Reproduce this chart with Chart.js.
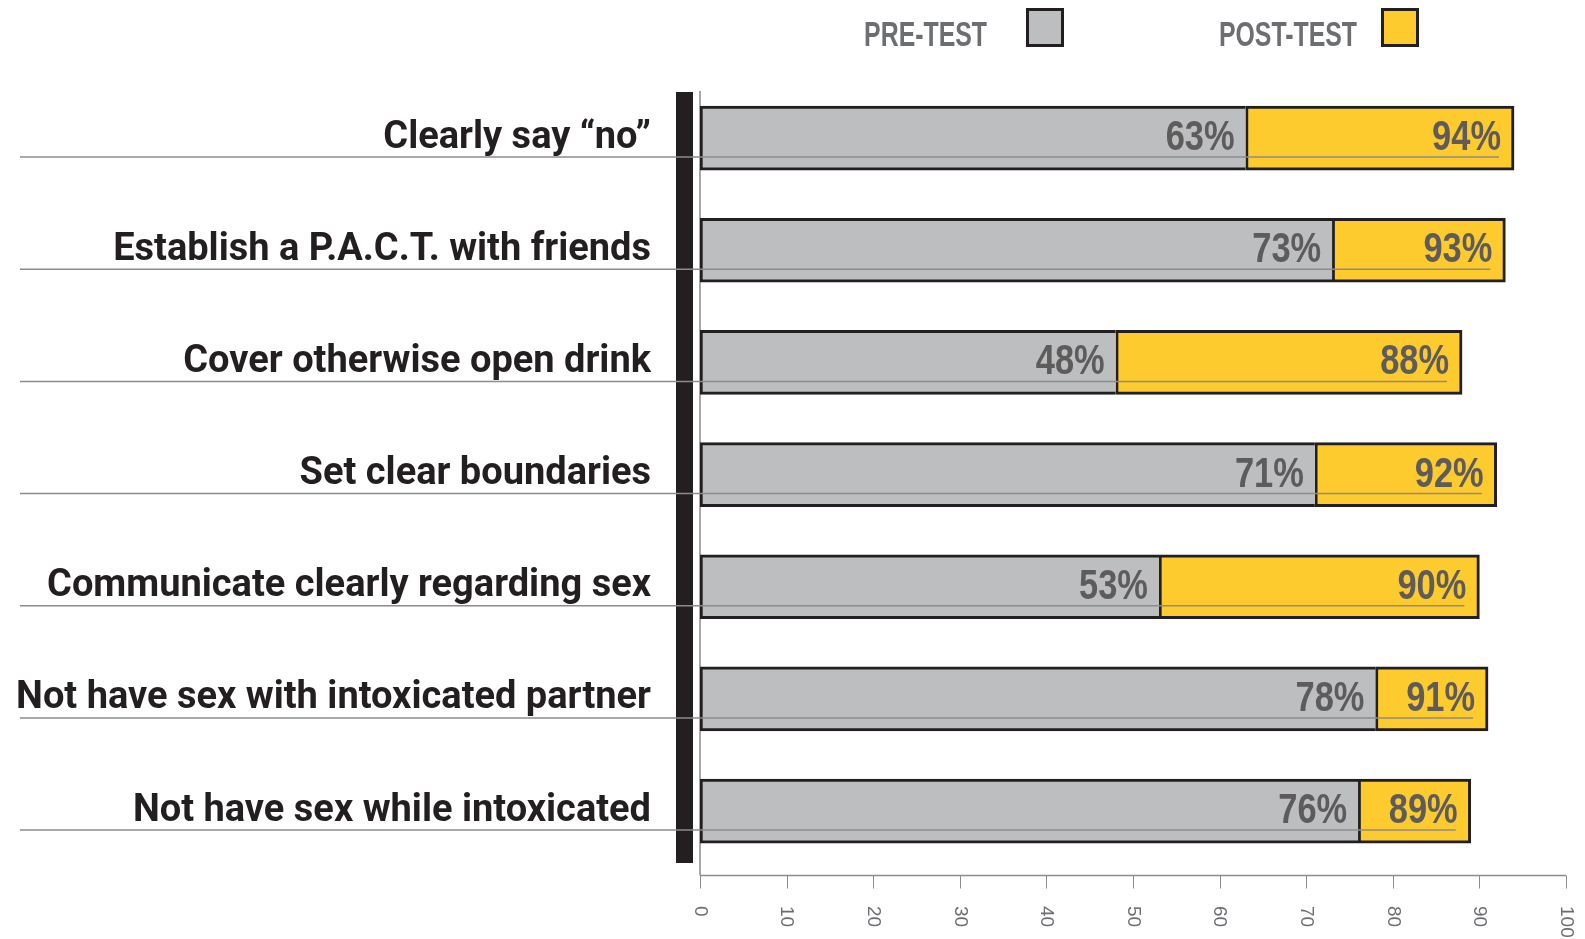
<!DOCTYPE html>
<html>
<head>
<meta charset="utf-8">
<script src="https://cdn.jsdelivr.net/npm/chart.js@4/dist/chart.umd.min.js"></script>
<style>
  html, body { margin: 0; padding: 0; background: #fff; }
  #wrap { width: 1585px; height: 939px; }
</style>
</head>
<body>
<div id="wrap"><canvas id="chart" width="1585" height="939"></canvas></div>
<script>
const CATEGORIES = [
  'Clearly say \u201cno\u201d',
  'Establish a P.A.C.T. with friends',
  'Cover otherwise open drink',
  'Set clear boundaries',
  'Communicate clearly regarding sex',
  'Not have sex with intoxicated partner',
  'Not have sex while intoxicated',
];
const PRE_TEST  = [63, 73, 48, 71, 53, 78, 76];
const POST_TEST = [94, 93, 88, 92, 90, 91, 89];
const X_TICKS   = [0, 10, 20, 30, 40, 50, 60, 70, 80, 90, 100];
const SERIES    = ['PRE-TEST', 'POST-TEST'];

const GRAY = '#bcbec0';
const YELLOW = '#fecb2f';
const INK = '#231f20';
const LABEL_GRAY = '#5d5b5b';
const RULE = '#8c8c8c';

// 横に詰めたテキスト（コンデンス書体の代用）
function condensedText(ctx, text, x, y, font, sx, align) {
  ctx.save();
  ctx.font = font;
  const w = ctx.measureText(text).width * sx;
  const left = align === 'right' ? x - w : x;
  ctx.translate(left, y);
  ctx.scale(sx, 1);
  ctx.textAlign = 'left';
  ctx.fillText(text, 0, 0);
  ctx.restore();
}

const AXIS_Y = 875.5;

const decor = {
  id: 'decor',
  beforeDatasetsDraw(chart) {
    const ctx = chart.ctx;
    const xs = chart.scales.x;
    ctx.save();
    // 左の太い縦帯
    ctx.fillStyle = INK;
    ctx.fillRect(676, 92, 17, 771);
    // 軸線と目盛り
    ctx.strokeStyle = RULE;
    ctx.lineWidth = 1.5;
    ctx.beginPath();
    ctx.moveTo(xs.getPixelForValue(0), 91);
    ctx.lineTo(xs.getPixelForValue(0), AXIS_Y);
    ctx.moveTo(xs.getPixelForValue(0), AXIS_Y);
    ctx.lineTo(xs.getPixelForValue(100), AXIS_Y);
    ctx.stroke();
    ctx.lineWidth = 1;
    X_TICKS.forEach(v => {
      const x = Math.round(xs.getPixelForValue(v)) + 0.5;
      ctx.beginPath();
      ctx.moveTo(x, AXIS_Y);
      ctx.lineTo(x, AXIS_Y + 13);
      ctx.stroke();
    });
    ctx.restore();
  },
  afterDatasetsDraw(chart) {
    const ctx = chart.ctx;
    const xs = chart.scales.x, ys = chart.scales.y;

    CATEGORIES.forEach((c, i) => {
      const yc = ys.getPixelForValue(i);
      // 下線
      ctx.save();
      ctx.strokeStyle = RULE;
      ctx.lineWidth = 1.5;
      ctx.beginPath();
      ctx.moveTo(20, yc + 19);
      ctx.lineTo(xs.getPixelForValue(POST_TEST[i]) - 15, yc + 19);
      ctx.stroke();
      ctx.restore();

      // 値ラベル
      ctx.fillStyle = LABEL_GRAY;
      const f = 'bold 42px "Liberation Sans", Arial, sans-serif';
      condensedText(ctx, PRE_TEST[i] + '%', xs.getPixelForValue(PRE_TEST[i]) - 11, yc + 12, f, 0.82, 'right');
      condensedText(ctx, POST_TEST[i] + '%', xs.getPixelForValue(POST_TEST[i]) - 13, yc + 12, f, 0.82, 'right');
    });
  },
  afterDraw(chart) {
    const ctx = chart.ctx;
    const xs = chart.scales.x;

    // 目盛りラベル（時計回りに90°）
    ctx.save();
    ctx.fillStyle = '#6d6e71';
    ctx.font = '19px "Liberation Sans", Arial, sans-serif';
    ctx.textAlign = 'left';
    ctx.textBaseline = 'middle';
    X_TICKS.forEach(v => {
      ctx.save();
      ctx.translate(xs.getPixelForValue(v), 906);
      ctx.rotate(Math.PI / 2);
      ctx.fillText(String(v), 0, 0);
      ctx.restore();
    });
    ctx.restore();

    // 凡例
    const legend = [
      { text: SERIES[0], right: 987, box: 1026, color: GRAY },
      { text: SERIES[1], right: 1357, box: 1381, color: YELLOW },
    ];
    legend.forEach(l => {
      ctx.fillStyle = '#6d6e71';
      condensedText(ctx, l.text, l.right, 46, 'bold 35px "Liberation Sans", Arial, sans-serif', 0.71, 'right');
      ctx.save();
      ctx.fillStyle = l.color;
      ctx.fillRect(l.box, 8, 38, 39);
      ctx.strokeStyle = INK;
      ctx.lineWidth = 3;
      ctx.strokeRect(l.box + 1.5, 9.5, 35, 36);
      ctx.restore();
    });
  },
};

new Chart(document.getElementById('chart'), {
  type: 'bar',
  data: {
    labels: CATEGORIES,
    datasets: [
      {
        label: SERIES[0],
        data: PRE_TEST,
        backgroundColor: GRAY,
        borderColor: INK,
        borderWidth: { top: 3, bottom: 3, left: 3, right: 0 },
        borderSkipped: false,
        barThickness: 64,
      },
      {
        label: SERIES[1],
        data: POST_TEST.map((v, i) => v - PRE_TEST[i]),
        backgroundColor: YELLOW,
        borderColor: INK,
        borderWidth: { top: 3, bottom: 3, left: 3, right: 3 },
        borderSkipped: false,
        barThickness: 64,
      },
    ],
  },
  options: {
    indexAxis: 'y',
    responsive: false,
    animation: false,
    layout: { padding: { top: 82, right: 19, left: 0, bottom: 71 } },
    plugins: { legend: { display: false }, tooltip: { enabled: false } },
    scales: {
      x: {
        display: false,
        stacked: true,
        min: 0,
        max: 100,
      },
      y: {
        stacked: true,
        ticks: {
          color: INK,
          font: { family: 'Roboto, "Liberation Sans", Arial, sans-serif', size: 38, weight: 'bold' },
          padding: 49,
        },
        grid: { drawOnChartArea: false, drawTicks: false },
        border: { display: false },
        afterFit: s => { s.width = 700; },
      },
    },
  },
  plugins: [decor],
});
</script>
</body>
</html>
